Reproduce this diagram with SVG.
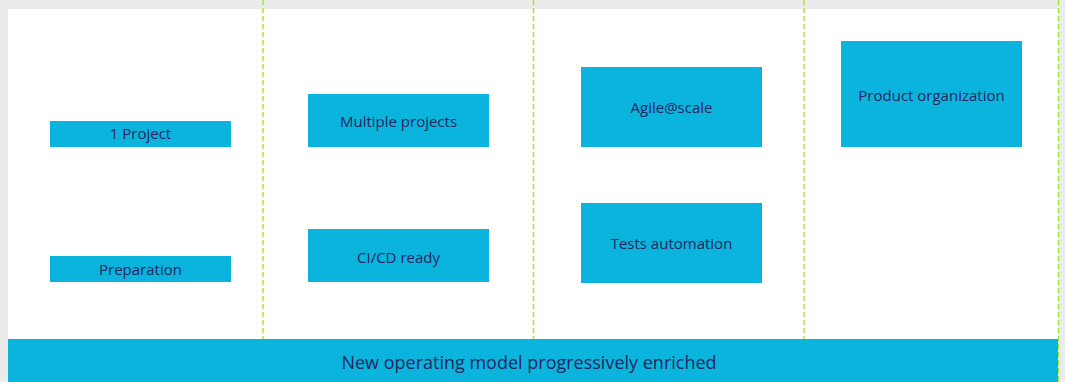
<svg xmlns="http://www.w3.org/2000/svg" width="1065" height="382" viewBox="0 0 1065 382">
<style>
.box{fill:#0ab4dd}
.t{font-family:"Open Sans","Liberation Sans",sans-serif;font-size:15px;fill:#262660;text-anchor:middle;dominant-baseline:central}
.sep{stroke:#a6e33a;stroke-width:1.5;stroke-dasharray:5 3;fill:none}
</style>
<rect x="0" y="0" width="1065" height="382" fill="#ebebeb"/>
<rect x="8" y="9" width="1050" height="373" fill="#ffffff"/>
<g id="separators">
<line class="sep" x1="263" y1="0" x2="263" y2="339"/>
<line class="sep" x1="533.5" y1="0" x2="533.5" y2="339"/>
<line class="sep" x1="804" y1="0" x2="804" y2="339"/>
<line class="sep" x1="1058.5" y1="0" x2="1058.5" y2="382"/>
</g>
<g id="n-1project"><rect class="box" x="50" y="121" width="181" height="26"/><text class="t" x="140.5" y="133">1 Project</text></g>
<g id="n-preparation"><rect class="box" x="50" y="256" width="181" height="26"/><text class="t" x="140.5" y="269">Preparation</text></g>
<g id="n-multiple"><rect class="box" x="308" y="94" width="181" height="53"/><text class="t" x="398.5" y="120.5">Multiple projects</text></g>
<g id="n-cicd"><rect class="box" x="308" y="229" width="181" height="53"/><text class="t" x="398.5" y="256.5">CI/CD ready</text></g>
<g id="n-agile"><rect class="box" x="581" y="67" width="181" height="80"/><text class="t" x="671.5" y="107">Agile@scale</text></g>
<g id="n-tests"><rect class="box" x="581" y="203" width="181" height="80"/><text class="t" x="671.5" y="242.5">Tests automation</text></g>
<g id="n-product"><rect class="box" x="841" y="41" width="181" height="106"/><text class="t" x="931.5" y="95">Product organization</text></g>
<g id="n-bottom"><rect class="box" x="8" y="339" width="1050" height="43"/><text class="t" x="529" y="362" style="font-size:18px">New operating model progressively enriched</text></g>
</svg>
